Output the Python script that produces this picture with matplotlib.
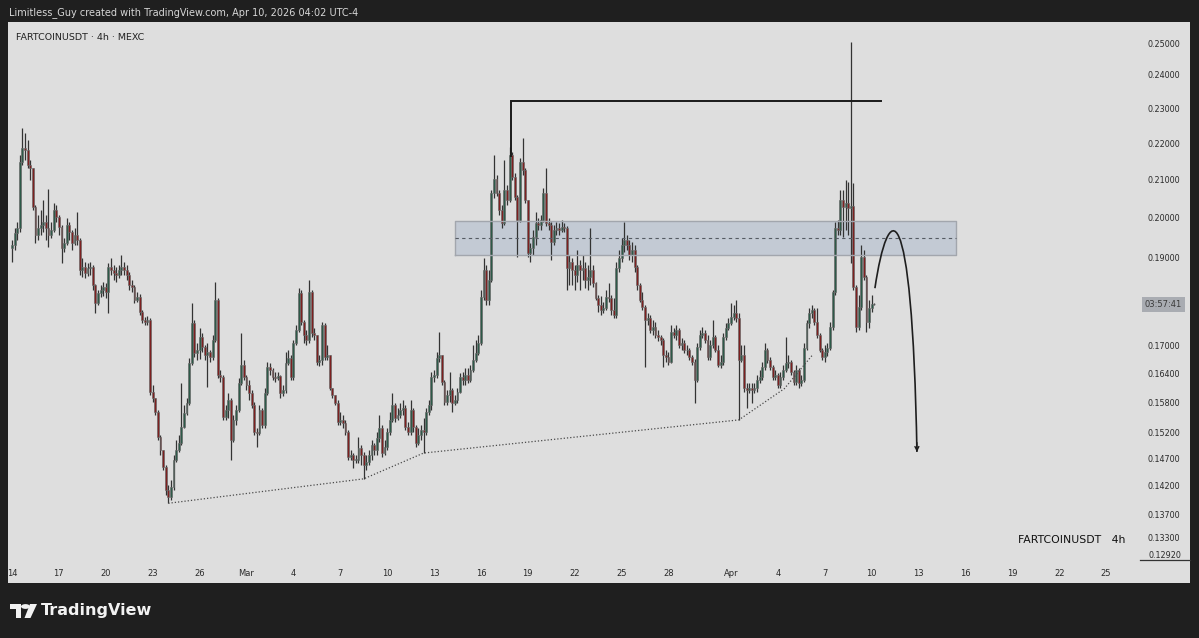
import matplotlib
matplotlib.use("Agg")
import matplotlib.pyplot as plt
from matplotlib.patches import Rectangle, PathPatch, Polygon, Circle
from matplotlib.path import Path
from matplotlib.ticker import FixedLocator, NullLocator, FuncFormatter
from matplotlib.transforms import blended_transform_factory
import pandas as pd

plt.rcParams['font.family'] = ['DejaVu Sans']

W, H = 1199, 638

# 4h candles, FARTCOINUSDT (MEXC), starting 2026-02-14 00:00
start = pd.Timestamp("2026-02-14 00:00")
first_open = 0.1924

close = [
    0.1932, 0.1961, 0.1974, 0.2148, 0.2186, 0.2181, 0.2139, 0.2131, 0.2028, 0.1956,
    0.1974, 0.1982, 0.1989, 0.1974, 0.1956, 0.1969, 0.2020, 0.2002, 0.1977, 0.1924,
    0.1937, 0.1982, 0.1964, 0.1937, 0.1956, 0.1944, 0.1871, 0.1878, 0.1864, 0.1876,
    0.1878, 0.1835, 0.1793, 0.1817, 0.1824, 0.1831, 0.1819, 0.1878, 0.1871, 0.1864,
    0.1859, 0.1871, 0.1878, 0.1871, 0.1859, 0.1835, 0.1831, 0.1800, 0.1807, 0.1773,
    0.1755, 0.1750, 0.1755, 0.1601, 0.1589, 0.1561, 0.1512, 0.1487, 0.1455, 0.1413,
    0.1400, 0.1418, 0.1468, 0.1487, 0.1500, 0.1531, 0.1559, 0.1579, 0.1661, 0.1748,
    0.1683, 0.1689, 0.1718, 0.1696, 0.1678, 0.1685, 0.1674, 0.1711, 0.1800, 0.1636,
    0.1632, 0.1551, 0.1565, 0.1585, 0.1506, 0.1545, 0.1565, 0.1619, 0.1657, 0.1632,
    0.1615, 0.1599, 0.1575, 0.1521, 0.1519, 0.1565, 0.1535, 0.1599, 0.1653, 0.1646,
    0.1632, 0.1630, 0.1634, 0.1599, 0.1605, 0.1661, 0.1672, 0.1632, 0.1704, 0.1733,
    0.1817, 0.1750, 0.1722, 0.1711, 0.1819, 0.1726, 0.1722, 0.1663, 0.1668, 0.1744,
    0.1674, 0.1678, 0.1609, 0.1595, 0.1579, 0.1541, 0.1545, 0.1539, 0.1521, 0.1474,
    0.1477, 0.1468, 0.1468, 0.1491, 0.1477, 0.1459, 0.1464, 0.1477, 0.1496, 0.1487,
    0.1510, 0.1529, 0.1481, 0.1492, 0.1521, 0.1545, 0.1575, 0.1549, 0.1555, 0.1565,
    0.1569, 0.1531, 0.1521, 0.1565, 0.1531, 0.1500, 0.1515, 0.1525, 0.1521, 0.1561,
    0.1575, 0.1632, 0.1636, 0.1672, 0.1678, 0.1621, 0.1581, 0.1595, 0.1605, 0.1579,
    0.1585, 0.1601, 0.1632, 0.1626, 0.1636, 0.1626, 0.1646, 0.1668, 0.1683, 0.1704,
    0.1807, 0.1871, 0.1800, 0.1847, 0.2064, 0.2101, 0.2064, 0.2020, 0.1987, 0.2072,
    0.2046, 0.2167, 0.2107, 0.2054, 0.1994, 0.2148, 0.2126, 0.2046, 0.1912, 0.1924,
    0.1951, 0.1987, 0.1982, 0.1994, 0.2064, 0.1987, 0.1982, 0.1939, 0.1969, 0.1974,
    0.1969, 0.1977, 0.1974, 0.1876, 0.1890, 0.1871, 0.1859, 0.1883, 0.1871, 0.1876,
    0.1847, 0.1854, 0.1871, 0.1840, 0.1805, 0.1789, 0.1778, 0.1782, 0.1807, 0.1805,
    0.1778, 0.1766, 0.1876, 0.1900, 0.1932, 0.1944, 0.1932, 0.1907, 0.1919, 0.1878,
    0.1835, 0.1800, 0.1785, 0.1755, 0.1759, 0.1733, 0.1740, 0.1722, 0.1718, 0.1711,
    0.1678, 0.1674, 0.1663, 0.1729, 0.1722, 0.1733, 0.1700, 0.1704, 0.1689, 0.1689,
    0.1674, 0.1663, 0.1626, 0.1696, 0.1722, 0.1726, 0.1711, 0.1674, 0.1700, 0.1718,
    0.1689, 0.1657, 0.1663, 0.1718, 0.1737, 0.1748, 0.1762, 0.1771, 0.1759, 0.1668,
    0.1678, 0.1609, 0.1605, 0.1609, 0.1605, 0.1609, 0.1626, 0.1632, 0.1653, 0.1689,
    0.1668, 0.1653, 0.1632, 0.1636, 0.1615, 0.1632, 0.1646, 0.1661, 0.1663, 0.1642,
    0.1621, 0.1646, 0.1619, 0.1626, 0.1694, 0.1748, 0.1771, 0.1778, 0.1750, 0.1722,
    0.1689, 0.1674, 0.1685, 0.1694, 0.1740, 0.1819, 0.1974, 0.1969, 0.2046, 0.2028,
    0.2038, 0.2025, 0.2030, 0.1831, 0.1740, 0.1785, 0.1902, 0.1854, 0.1750, 0.1782,
    0.1791, 0.1791,
]

high = [
    0.1944, 0.1974, 0.1989, 0.2167, 0.2243, 0.2228, 0.2209, 0.2153, 0.2131, 0.2033,
    0.2007, 0.2020, 0.2046, 0.2007, 0.2075, 0.1989, 0.2038, 0.2033, 0.2007, 0.1982,
    0.1949, 0.1999, 0.1989, 0.1969, 0.1974, 0.2015, 0.1949, 0.1900, 0.1890, 0.1888,
    0.1890, 0.1883, 0.1838, 0.1824, 0.1835, 0.1843, 0.1840, 0.1888, 0.1900, 0.1883,
    0.1878, 0.1883, 0.1907, 0.1890, 0.1883, 0.1866, 0.1847, 0.1835, 0.1819, 0.1814,
    0.1778, 0.1762, 0.1764, 0.1759, 0.1615, 0.1589, 0.1565, 0.1515, 0.1485, 0.1459,
    0.1422, 0.1431, 0.1477, 0.1506, 0.1515, 0.1619, 0.1575, 0.1589, 0.1672, 0.1793,
    0.1755, 0.1704, 0.1737, 0.1726, 0.1700, 0.1704, 0.1689, 0.1722, 0.1843, 0.1805,
    0.1646, 0.1636, 0.1575, 0.1599, 0.1589, 0.1555, 0.1575, 0.1630, 0.1726, 0.1668,
    0.1636, 0.1626, 0.1605, 0.1581, 0.1529, 0.1575, 0.1569, 0.1609, 0.1663, 0.1661,
    0.1650, 0.1642, 0.1642, 0.1636, 0.1615, 0.1685, 0.1689, 0.1678, 0.1711, 0.1744,
    0.1828, 0.1824, 0.1755, 0.1733, 0.1847, 0.1824, 0.1737, 0.1722, 0.1678, 0.1750,
    0.1748, 0.1700, 0.1678, 0.1609, 0.1595, 0.1585, 0.1561, 0.1555, 0.1545, 0.1525,
    0.1487, 0.1481, 0.1477, 0.1512, 0.1496, 0.1483, 0.1477, 0.1487, 0.1506, 0.1500,
    0.1521, 0.1555, 0.1535, 0.1506, 0.1529, 0.1561, 0.1599, 0.1579, 0.1569, 0.1579,
    0.1585, 0.1575, 0.1541, 0.1585, 0.1569, 0.1535, 0.1529, 0.1535, 0.1549, 0.1569,
    0.1585, 0.1642, 0.1646, 0.1685, 0.1729, 0.1678, 0.1626, 0.1605, 0.1642, 0.1609,
    0.1595, 0.1609, 0.1640, 0.1642, 0.1650, 0.1650, 0.1657, 0.1700, 0.1711, 0.1722,
    0.1824, 0.1900, 0.1883, 0.1871, 0.2072, 0.2167, 0.2112, 0.2072, 0.2033, 0.2153,
    0.2085, 0.2189, 0.2175, 0.2118, 0.2059, 0.2159, 0.2214, 0.2131, 0.2046, 0.1937,
    0.1969, 0.2015, 0.1999, 0.2007, 0.2077, 0.2131, 0.1999, 0.1989, 0.1982, 0.1989,
    0.1987, 0.1994, 0.1987, 0.1979, 0.1907, 0.1900, 0.1883, 0.1919, 0.1895, 0.1907,
    0.1890, 0.1883, 0.1974, 0.1883, 0.1843, 0.1812, 0.1810, 0.1796, 0.1824, 0.1840,
    0.1812, 0.1805, 0.1890, 0.1919, 0.1949, 0.1989, 0.1956, 0.1944, 0.1939, 0.1932,
    0.1883, 0.1840, 0.1819, 0.1789, 0.1771, 0.1766, 0.1755, 0.1750, 0.1733, 0.1722,
    0.1716, 0.1689, 0.1685, 0.1744, 0.1737, 0.1744, 0.1737, 0.1716, 0.1711, 0.1700,
    0.1694, 0.1678, 0.1670, 0.1704, 0.1733, 0.1740, 0.1733, 0.1722, 0.1711, 0.1755,
    0.1722, 0.1700, 0.1678, 0.1726, 0.1748, 0.1759, 0.1793, 0.1789, 0.1800, 0.1771,
    0.1700, 0.1700, 0.1619, 0.1619, 0.1619, 0.1619, 0.1636, 0.1646, 0.1663, 0.1704,
    0.1694, 0.1674, 0.1657, 0.1646, 0.1640, 0.1642, 0.1657, 0.1718, 0.1678, 0.1668,
    0.1646, 0.1657, 0.1650, 0.1636, 0.1704, 0.1755, 0.1782, 0.1789, 0.1782, 0.1782,
    0.1726, 0.1694, 0.1700, 0.1704, 0.1750, 0.1824, 0.1989, 0.1994, 0.2072, 0.2072,
    0.2099, 0.2093, 0.2503, 0.2091, 0.1835, 0.1812, 0.1932, 0.1919, 0.1859, 0.1800,
    0.1812, 0.1793,
]

low = [
    0.1890, 0.1919, 0.1944, 0.1964, 0.2139, 0.2153, 0.2131, 0.2099, 0.2020, 0.1937,
    0.1944, 0.1956, 0.1964, 0.1944, 0.1927, 0.1949, 0.1964, 0.1989, 0.1956, 0.1888,
    0.1914, 0.1932, 0.1944, 0.1919, 0.1932, 0.1932, 0.1859, 0.1854, 0.1852, 0.1857,
    0.1859, 0.1824, 0.1771, 0.1789, 0.1807, 0.1810, 0.1805, 0.1771, 0.1859, 0.1847,
    0.1843, 0.1852, 0.1859, 0.1859, 0.1847, 0.1824, 0.1819, 0.1793, 0.1796, 0.1766,
    0.1748, 0.1744, 0.1744, 0.1595, 0.1581, 0.1555, 0.1506, 0.1477, 0.1449, 0.1404,
    0.1389, 0.1395, 0.1413, 0.1464, 0.1483, 0.1496, 0.1529, 0.1555, 0.1575, 0.1657,
    0.1674, 0.1668, 0.1670, 0.1685, 0.1668, 0.1611, 0.1663, 0.1668, 0.1707, 0.1630,
    0.1621, 0.1545, 0.1545, 0.1549, 0.1468, 0.1502, 0.1535, 0.1561, 0.1615, 0.1626,
    0.1605, 0.1585, 0.1569, 0.1515, 0.1492, 0.1515, 0.1529, 0.1529, 0.1595, 0.1636,
    0.1626, 0.1621, 0.1626, 0.1589, 0.1593, 0.1599, 0.1657, 0.1626, 0.1626, 0.1700,
    0.1729, 0.1744, 0.1704, 0.1700, 0.1704, 0.1718, 0.1711, 0.1657, 0.1655, 0.1657,
    0.1668, 0.1668, 0.1605, 0.1589, 0.1575, 0.1535, 0.1535, 0.1529, 0.1515, 0.1468,
    0.1468, 0.1453, 0.1462, 0.1462, 0.1459, 0.1433, 0.1449, 0.1459, 0.1468, 0.1477,
    0.1477, 0.1502, 0.1474, 0.1477, 0.1487, 0.1515, 0.1541, 0.1541, 0.1545, 0.1549,
    0.1555, 0.1525, 0.1515, 0.1515, 0.1521, 0.1492, 0.1496, 0.1506, 0.1481, 0.1515,
    0.1555, 0.1565, 0.1621, 0.1630, 0.1663, 0.1615, 0.1575, 0.1575, 0.1581, 0.1561,
    0.1575, 0.1579, 0.1599, 0.1615, 0.1615, 0.1619, 0.1621, 0.1642, 0.1663, 0.1678,
    0.1700, 0.1800, 0.1789, 0.1789, 0.1843, 0.2051, 0.2056, 0.2007, 0.1974, 0.1982,
    0.2033, 0.2041, 0.2099, 0.2046, 0.1902, 0.1989, 0.2112, 0.2038, 0.1902, 0.1890,
    0.1907, 0.1932, 0.1969, 0.1969, 0.1989, 0.1979, 0.1969, 0.1895, 0.1932, 0.1956,
    0.1956, 0.1964, 0.1964, 0.1824, 0.1835, 0.1835, 0.1824, 0.1843, 0.1824, 0.1847,
    0.1828, 0.1824, 0.1835, 0.1831, 0.1800, 0.1773, 0.1766, 0.1771, 0.1778, 0.1796,
    0.1766, 0.1759, 0.1759, 0.1866, 0.1890, 0.1914, 0.1919, 0.1895, 0.1890, 0.1866,
    0.1824, 0.1796, 0.1778, 0.1653, 0.1744, 0.1726, 0.1722, 0.1716, 0.1709, 0.1700,
    0.1653, 0.1663, 0.1657, 0.1661, 0.1716, 0.1711, 0.1694, 0.1689, 0.1683, 0.1678,
    0.1668, 0.1657, 0.1579, 0.1621, 0.1689, 0.1716, 0.1704, 0.1668, 0.1668, 0.1694,
    0.1685, 0.1653, 0.1650, 0.1657, 0.1711, 0.1733, 0.1744, 0.1755, 0.1750, 0.1545,
    0.1663, 0.1601, 0.1569, 0.1599, 0.1579, 0.1599, 0.1601, 0.1619, 0.1626, 0.1646,
    0.1661, 0.1646, 0.1626, 0.1626, 0.1609, 0.1609, 0.1626, 0.1642, 0.1650, 0.1636,
    0.1615, 0.1615, 0.1609, 0.1613, 0.1621, 0.1689, 0.1737, 0.1759, 0.1744, 0.1716,
    0.1685, 0.1668, 0.1663, 0.1676, 0.1689, 0.1733, 0.1812, 0.1956, 0.1956, 0.1951,
    0.1969, 0.1956, 0.1888, 0.1824, 0.1729, 0.1733, 0.1778, 0.1847, 0.1729, 0.1737,
    0.1773, 0.1789,
]

# price scale labels
price_ticks = [0.25, 0.24, 0.23, 0.22, 0.21, 0.20, 0.19, 0.18, 0.17,
               0.164, 0.158, 0.152, 0.147, 0.142, 0.137, 0.133]
scale_bottom = 0.1292

# time scale labels
tick_dates = ["2026-02-14", "2026-02-17", "2026-02-20", "2026-02-23", "2026-02-26",
              "2026-03-01", "2026-03-04", "2026-03-07", "2026-03-10", "2026-03-13",
              "2026-03-16", "2026-03-19", "2026-03-22", "2026-03-25", "2026-03-28",
              "2026-04-01", "2026-04-04", "2026-04-07", "2026-04-10", "2026-04-13",
              "2026-04-16", "2026-04-19", "2026-04-22", "2026-04-25"]
tick_labels = ["14", "17", "20", "23", "26", "Mar", "4", "7", "10", "13", "16", "19",
               "22", "25", "28", "Apr", "4", "7", "10", "13", "16", "19", "22", "25"]

# drawings (time, price)
trend_t = ["2026-02-24 00:00", "2026-03-08 12:00", "2026-03-12 08:00",
           "2026-04-01 12:00", "2026-04-04 10:00", "2026-04-06 06:00"]
trend_p = [0.1389, 0.1433, 0.1481, 0.1545, 0.1608, 0.1680]

res_t = ["2026-03-17 22:00", "2026-03-17 22:00", "2026-04-10 14:00"]
res_p = [0.2164, 0.2322, 0.2322]

zone_t = ["2026-03-14 08:00", "2026-04-15 10:00"]
zone_p = [0.1907, 0.1991]
zone_mid = 0.1949

arrow_t = ["2026-04-10 05:00", "2026-04-11 01:00", "2026-04-12 14:00", "2026-04-12 21:30"]
arrow_p = [0.1828, 0.2046, 0.2085, 0.1483]


def pos(t):
    return (pd.Timestamp(t) - start) / pd.Timedelta("4h")


fig = plt.figure(figsize=(W / 100, H / 100), dpi=100, facecolor='#1f1f1f')
fig.patches.append(Rectangle((8 / W, 1 - 583 / H), 1182 / W, 561 / H,
                             transform=fig.transFigure, facecolor='#dedede',
                             edgecolor='none', zorder=-10))

ax = fig.add_axes([8 / W, 1 - 563 / H, 1182 / W, 541 / H])
ax.set_facecolor('none')
ax.set_yscale('log')
ax.set_xlim(-1.54, 452.2)
ax.set_ylim(0.1287, 0.2568)
for s in ax.spines.values():
    s.set_visible(False)

# zone fill sits under the candles
zx0, zx1 = pos(zone_t[0]), pos(zone_t[1])
ax.add_patch(Rectangle((zx0, zone_p[0]), zx1 - zx0, zone_p[1] - zone_p[0],
                       facecolor='#aab8cc', alpha=0.5, edgecolor='none', zorder=1))

# candles
opens = [first_open] + close[:-1]
up_col, dn_col, wick_col = '#2d5a48', '#7d2020', '#333333'
xs = list(range(len(close)))
lo = [min(l, o, c) for l, o, c in zip(low, opens, close)]
hi = [max(h, o, c) for h, o, c in zip(high, opens, close)]
ax.vlines(xs, lo, hi, colors=wick_col, linewidth=0.9, zorder=2)
cols = [up_col if c >= o else dn_col for o, c in zip(opens, close)]
bottoms = [min(o, c) for o, c in zip(opens, close)]
heights = [max(abs(c - o), 0.00012) for o, c in zip(opens, close)]
ax.bar(xs, heights, bottom=bottoms, width=0.72, color=cols, edgecolor='#6b6b6b',
       linewidth=0.45, zorder=3)

# zone border and mid line
ax.plot([zx0, zx1, zx1, zx0, zx0], [zone_p[0], zone_p[0], zone_p[1], zone_p[1], zone_p[0]],
        color='#a2a6ad', lw=1.0, zorder=4)
ax.plot([zx0, zx1], [zone_mid, zone_mid], color='#555b63', lw=0.8,
        ls=(0, (3, 3)), zorder=4)

# resistance line
ax.plot([pos(t) for t in res_t], res_p, color='#1a1a1a', lw=1.4, zorder=5,
        solid_joinstyle='miter')

# rising dotted trend line
ax.plot([pos(t) for t in trend_t], trend_p, color='#4a4a4a', lw=0.9,
        ls=(0, (1, 1.6)), zorder=5)

# projected path arrow
verts = list(zip([pos(t) for t in arrow_t], arrow_p))
curve = Path(verts, [Path.MOVETO, Path.CURVE4, Path.CURVE4, Path.CURVE4])
ax.add_patch(PathPatch(curve, facecolor='none', edgecolor='#1e1e1e', lw=1.2, zorder=5))
ax.annotate('', xy=verts[-1], xytext=(verts[-1][0] - 0.02, verts[-1][1] * 1.012),
            arrowprops=dict(arrowstyle='->', color='#1e1e1e', lw=1.0,
                            mutation_scale=7, shrinkA=0, shrinkB=0), zorder=5)

# axes ticks
ax.xaxis.set_major_locator(FixedLocator([pos(d) for d in tick_dates]))
ax.set_xticklabels(tick_labels)
ax.tick_params(axis='x', length=0, pad=4, labelsize=6, labelcolor='#2a2a2a')
ax.yaxis.tick_right()
ax.yaxis.set_major_locator(FixedLocator(price_ticks))
ax.yaxis.set_minor_locator(NullLocator())
ax.yaxis.set_major_formatter(FuncFormatter(lambda v, p: f"{v:.5f}"))
ax.tick_params(axis='y', which='both', length=0, pad=-30.5, labelsize=5.8,
               labelcolor='#2a2a2a')

bt = blended_transform_factory(ax.transAxes, ax.transData)
ax.text(0.9645, scale_bottom, f"{scale_bottom:.5f}", transform=bt, fontsize=5.8,
        color='#2a2a2a', va='bottom', ha='left', zorder=6)
ax.plot([0.958, 1.0], [scale_bottom, scale_bottom], transform=bt, color='#333333',
        lw=0.9, zorder=6, clip_on=False)
ax.text(0.9776, close[-1], "03:57:41", transform=bt, fontsize=6.0, color='#3a3a3a',
        ha='center', va='center', zorder=7,
        bbox=dict(boxstyle='square,pad=0.35', facecolor='#a9acb2', edgecolor='none'))

# texts
fig.text(9 / W, 1 - 13 / H, "Limitless_Guy created with TradingView.com, Apr 10, 2026 04:02 UTC-4",
         fontsize=7, color='#d6d6d6', ha='left', va='center')
fig.text(16 / W, 1 - 38 / H, "FARTCOINUSDT · 4h · MEXC", fontsize=6.8, color='#222222',
         ha='left', va='center')
fig.text(1018 / W, 1 - 540 / H, "FARTCOINUSDT   4h", fontsize=7.8, color='#111111',
         ha='left', va='center')

# TradingView logo
def px(x, y):
    return (x / W, 1 - y / H)

logo = '#f2f2f2'
fig.patches.append(Polygon([px(10, 604), px(21, 604), px(21, 618), px(16, 618),
                            px(16, 609), px(10, 609)], closed=True, transform=fig.transFigure,
                           facecolor=logo, edgecolor='none'))
fig.patches.append(Circle(px(25.5, 606.5), 2.4 / H, transform=fig.transFigure,
                          facecolor=logo, edgecolor='none'))
fig.patches.append(Polygon([px(30, 604), px(37, 604), px(30.5, 618), px(24.5, 618)],
                           closed=True, transform=fig.transFigure, facecolor=logo,
                           edgecolor='none'))
fig.text(41 / W, 1 - 611 / H, "TradingView", fontsize=11.5, fontweight='bold',
         color=logo, ha='left', va='center')

fig.savefig("out.png", dpi=100, facecolor=fig.get_facecolor())
